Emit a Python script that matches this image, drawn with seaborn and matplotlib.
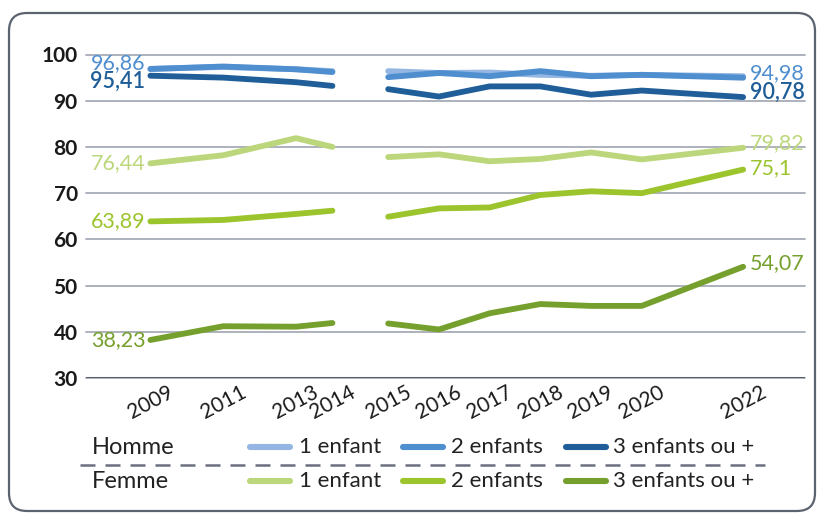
"""
Part des hommes / femmes en emploi selon le nombre d'enfants, 2009-2022.
"""

import numpy as np
import pandas as pd
import matplotlib
matplotlib.use("Agg")
import matplotlib.pyplot as plt
import matplotlib.patches as mpatches
from matplotlib.lines import Line2D
import seaborn as sns

sns.set_theme(style="white")
plt.rcParams['font.family'] = ['Lato', 'DejaVu Sans']

# Data
years = [2009, 2011, 2013, 2014, 2015, 2016, 2017, 2018, 2019, 2020, 2022]
homme_1 = [96.9, 97.3, 96.8, 96.4, 96.4, 96.0, 96.1, 95.6, 95.4, 95.6, 95.3]
homme_2 = [96.86, 97.4, 96.8, 96.2, 95.1, 96.0, 95.3, 96.4, 95.3, 95.6, 94.98]
homme_3 = [95.41, 95.0, 94.0, 93.2, 92.5, 90.9, 93.1, 93.1, 91.3, 92.2, 90.78]
femme_1 = [76.44, 78.2, 81.9, 80.0, 77.8, 78.4, 76.9, 77.4, 78.8, 77.3, 79.82]
femme_2 = [63.89, 64.2, 65.5, 66.2, 64.9, 66.7, 66.9, 69.6, 70.4, 70.0, 75.1]
femme_3 = [38.23, 41.2, 41.1, 41.9, 41.8, 40.5, 44.0, 46.0, 45.6, 45.6, 54.07]

series_names = ['Homme 1', 'Homme 2', 'Homme 3', 'Femme 1', 'Femme 2', 'Femme 3']
series_values = [homme_1, homme_2, homme_3, femme_1, femme_2, femme_3]
colors = ['#93b6e2', '#4f8ecf', '#1f5e98', '#bcd77b', '#9cc42d', '#76a02d']
legend_labels = ['1 enfant', '2 enfants', '3 enfants ou +']

# first labels (left) and last labels (right), with small pixel shifts
left_shift = {'Homme 2': 6, 'Homme 3': -6}
right_shift = {'Homme 2': 5, 'Homme 3': 5, 'Femme 1': 5, 'Femme 2': 1, 'Femme 3': 4}
show_labels = ['Homme 2', 'Homme 3', 'Femme 1', 'Femme 2', 'Femme 3']

W, H = 823, 513


def xpos(year):
    """The chart uses a tighter scale before the 2014/2015 break."""
    return year if year >= 2015 else 2013.9 - (2014 - year) * 0.718


def fmt(v):
    s = ('%.2f' % v).rstrip('0').rstrip('.')
    return s.replace('.', ',')


def px(x, y):
    return x / W, 1 - y / H


rows = []
for name, vals in zip(series_names, series_values):
    for yr, v in zip(years, vals):
        rows.append({'serie': name, 'annee': yr, 'x': xpos(yr), 'valeur': v,
                     'segment': 0 if yr <= 2014 else 1})
df = pd.DataFrame(rows)

fig = plt.figure(figsize=(W / 100, H / 100), dpi=100)
ax = fig.add_axes([86 / W, 1 - 378 / H, (805 - 86) / W, (378 - 54.5) / H])

for name, col in zip(series_names, colors):
    for seg in [0, 1]:
        d = df[(df.serie == name) & (df.segment == seg)]
        sns.lineplot(data=d, x='x', y='valeur', ax=ax, color=col, lw=4.2,
                     solid_capstyle='round', solid_joinstyle='round',
                     estimator=None, sort=False, legend=False, zorder=3)

for name, vals, col in zip(series_names, series_values, colors):
    if name not in show_labels:
        continue
    wt = 'semibold' if name == 'Homme 3' else 'normal'
    ax.annotate(fmt(vals[0]), (xpos(years[0]), vals[0]),
                xytext=(-5, left_shift.get(name, 0)), textcoords='offset pixels',
                ha='right', va='center', fontsize=15.5, color=col, fontweight=wt)
    ax.annotate(fmt(vals[-1]), (xpos(years[-1]), vals[-1]),
                xytext=(7, right_shift.get(name, 0)), textcoords='offset pixels',
                ha='left', va='center', fontsize=15.5, color=col, fontweight=wt,
                annotation_clip=False)

ax.set_xlim(2009.04, 2023.22)
ax.set_ylim(30, 100)
ax.set_yticks(np.arange(30, 101, 10))
ax.set_yticklabels([str(v) for v in range(30, 101, 10)], fontsize=15,
                   fontweight='bold', color='#1a1a1a')
ax.set_xticks([xpos(y) for y in years])
ax.set_xticklabels([str(y) for y in years], rotation=28, ha='center',
                   fontsize=15, color='#1a1a1a')
ax.tick_params(axis='y', length=0, pad=6)
ax.tick_params(axis='x', length=0, pad=3)
ax.set_xlabel('')
ax.set_ylabel('')
ax.grid(axis='y', color='#a7abb7', lw=1.3)
ax.grid(axis='x', visible=False)
for sp in ax.spines.values():
    sp.set_visible(False)
ax.axhline(30, color='#5a606c', lw=2.2, zorder=2)
for t in ax.get_ygridlines():
    t.set_clip_on(False)

# legend drawn by hand, two rows separated by a dashed line
for label, row_y, cols in [('Homme', 447, colors[:3]), ('Femme', 481, colors[3:])]:
    fig.text(*px(92, row_y), label, fontsize=17, color='#222222',
             ha='left', va='center')
    for (x0, tx), col, lab in zip([(250, 299), (403, 451), (566, 613)], cols, legend_labels):
        fig.add_artist(Line2D([px(x0, 0)[0], px(x0 + 40, 0)[0]],
                              [px(0, row_y)[1]] * 2, transform=fig.transFigure,
                              color=col, lw=4.4, solid_capstyle='round'))
        fig.text(*px(tx, row_y), lab, fontsize=16, color='#222222',
                 ha='left', va='center')

fig.add_artist(Line2D([px(80, 0)[0], px(765, 0)[0]], [px(0, 465)[1]] * 2,
                      transform=fig.transFigure, color='#6b7080', lw=1.8,
                      dashes=(6, 4)))

# rounded frame around the whole card
frame = mpatches.FancyBboxPatch((9, 2), 806, 498,
                                boxstyle='round,pad=0,rounding_size=18',
                                transform=None, fill=False,
                                edgecolor='#5b6270', lw=1.6)
fig.add_artist(frame)

fig.savefig('out.png', dpi=100)
